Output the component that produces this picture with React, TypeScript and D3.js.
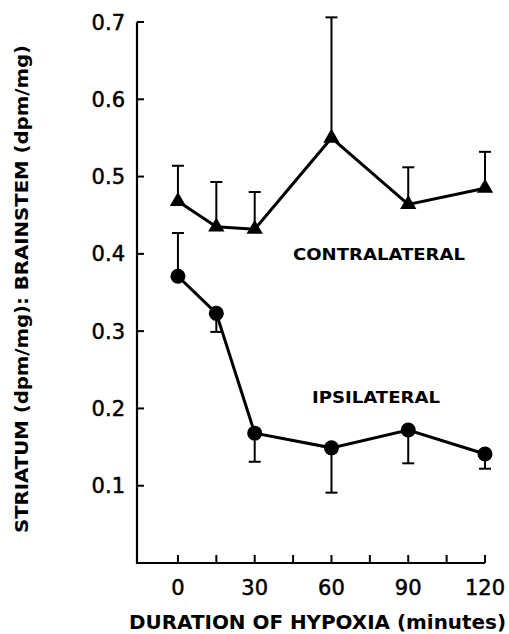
import * as d3 from 'd3';

// Duration of hypoxia (minutes)
const minutes = [0, 15, 30, 60, 90, 120];

// Contralateral (triangles): mean and SE (drawn upward)
const contraMean = [0.468, 0.435, 0.432, 0.55, 0.464, 0.485];
const contraErr = [0.046, 0.058, 0.048, 0.156, 0.048, 0.047];

// Ipsilateral (circles): mean, SE, and which way the bar is drawn
const ipsiMean = [0.371, 0.323, 0.168, 0.149, 0.172, 0.141];
const ipsiErr = [0.056, 0.024, 0.037, 0.058, 0.043, 0.019];
const ipsiErrDir = [1, -1, -1, -1, -1, -1];

const yTicks = [0.1, 0.2, 0.3, 0.4, 0.5, 0.6, 0.7];
const xTicks = [0, 15, 30, 45, 60, 75, 90, 105, 120];
const xLabels = [0, 30, 60, 90, 120];

const W = 509;
const H = 634;
const FONT = '"DejaVu Sans", sans-serif';

export default function App() {
  const x = d3.scaleLinear().domain([-16, 120]).range([137, 485]);
  const y = d3.scaleLinear().domain([0, 0.7]).range([563, 22]);

  const line = d3
    .line<number>()
    .x((_d, i) => x(minutes[i]))
    .y((d) => y(d));

  const tri = d3.symbol(d3.symbolTriangle, 115)() as string;
  const cap = 6;

  return (
    <svg
      width={W}
      height={H}
      style={{ position: 'absolute', left: 0, top: 0, background: '#fff' }}
    >
      <rect width={W} height={H} fill="#fff" />

      {/* axes */}
      <path
        d={`M${x(-16)},${y(0.7)}V${y(0)}H${x(120)}`}
        fill="none"
        stroke="#000"
        strokeWidth={2.2}
      />
      {yTicks.map((t) => (
        <g key={t}>
          <line x1={x(-16)} x2={x(-16) + 7} y1={y(t)} y2={y(t)} stroke="#000" strokeWidth={2} />
          <text
            x={x(-16) - 12}
            y={y(t)}
            dy="0.36em"
            textAnchor="end"
            fontFamily={FONT}
            fontSize={21}
            stroke="#000"
            strokeWidth={0.5}
          >
            {t.toFixed(1)}
          </text>
        </g>
      ))}
      {xTicks.map((t) => (
        <line key={t} x1={x(t)} x2={x(t)} y1={y(0)} y2={y(0) - 8} stroke="#000" strokeWidth={2} />
      ))}
      {xLabels.map((t) => (
        <text
          key={t}
          x={x(t)}
          y={587}
          dy="0.36em"
          textAnchor="middle"
          fontFamily={FONT}
          fontSize={21}
          stroke="#000"
          strokeWidth={0.5}
        >
          {t}
        </text>
      ))}

      {/* axis titles */}
      <text
        x={129}
        y={622}
        dy="0.36em"
        fontFamily={FONT}
        fontWeight="bold"
        fontSize={20}
        textLength={377}
        lengthAdjust="spacingAndGlyphs"
      >
        DURATION OF HYPOXIA (minutes)
      </text>
      <text
        transform="translate(22,533) rotate(-90)"
        dy="0.36em"
        fontFamily={FONT}
        fontWeight="bold"
        fontSize={17}
        textLength={488}
        lengthAdjust="spacingAndGlyphs"
      >
        STRIATUM (dpm/mg): BRAINSTEM (dpm/mg)
      </text>

      {/* contralateral error bars */}
      {contraMean.map((m, i) => (
        <g key={`ce${i}`} stroke="#000" strokeWidth={2}>
          <line x1={x(minutes[i])} x2={x(minutes[i])} y1={y(m)} y2={y(m + contraErr[i])} />
          <line
            x1={x(minutes[i]) - cap}
            x2={x(minutes[i]) + cap}
            y1={y(m + contraErr[i])}
            y2={y(m + contraErr[i])}
          />
        </g>
      ))}
      {/* ipsilateral error bars */}
      {ipsiMean.map((m, i) => {
        const e = m + ipsiErr[i] * ipsiErrDir[i];
        return (
          <g key={`ie${i}`} stroke="#000" strokeWidth={2}>
            <line x1={x(minutes[i])} x2={x(minutes[i])} y1={y(m)} y2={y(e)} />
            <line x1={x(minutes[i]) - cap} x2={x(minutes[i]) + cap} y1={y(e)} y2={y(e)} />
          </g>
        );
      })}

      {/* lines */}
      <path d={line(contraMean) ?? ''} fill="none" stroke="#000" strokeWidth={3} />
      <path d={line(ipsiMean) ?? ''} fill="none" stroke="#000" strokeWidth={3} />

      {/* markers */}
      {contraMean.map((m, i) => (
        <path key={`ct${i}`} d={tri} transform={`translate(${x(minutes[i])},${y(m)})`} fill="#000" />
      ))}
      {ipsiMean.map((m, i) => (
        <circle key={`ic${i}`} cx={x(minutes[i])} cy={y(m)} r={7.5} fill="#000" />
      ))}

      {/* series labels */}
      <text
        x={293}
        y={255}
        dy="0.36em"
        fontFamily={FONT}
        fontWeight="bold"
        fontSize={15}
        textLength={172}
        lengthAdjust="spacingAndGlyphs"
      >
        CONTRALATERAL
      </text>
      <text
        x={312}
        y={398}
        dy="0.36em"
        fontFamily={FONT}
        fontWeight="bold"
        fontSize={15}
        textLength={128}
        lengthAdjust="spacingAndGlyphs"
      >
        IPSILATERAL
      </text>
    </svg>
  );
}
